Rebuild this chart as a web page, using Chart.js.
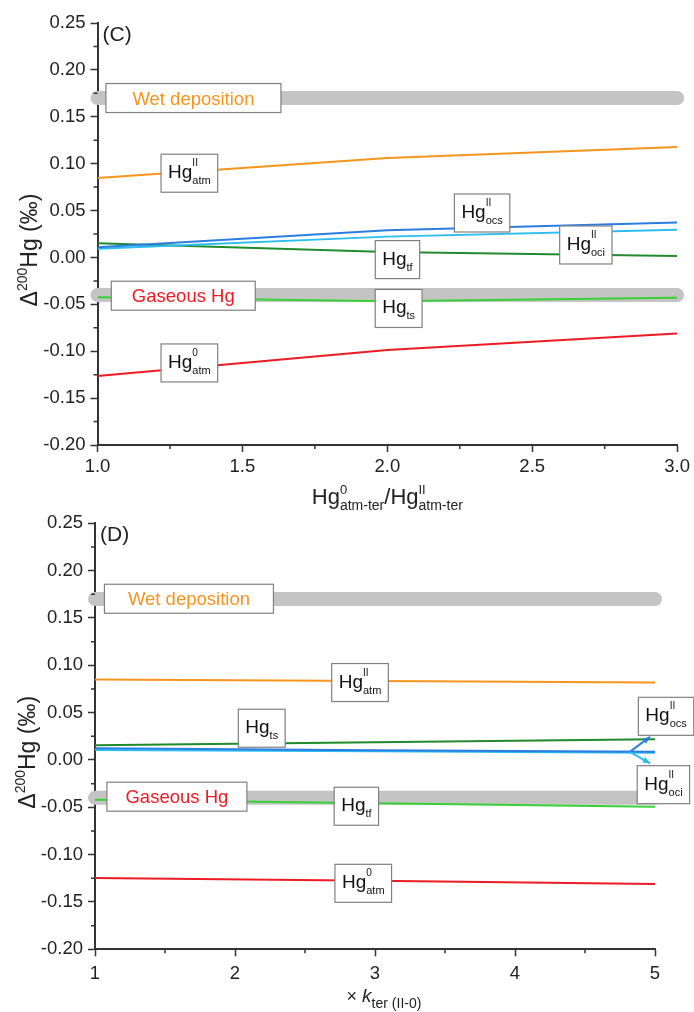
<!DOCTYPE html>
<html>
<head>
<meta charset="utf-8">
<script src="https://cdn.jsdelivr.net/npm/chart.js@4.4.0/dist/chart.umd.min.js"></script>
<style>
  html, body { margin: 0; padding: 0; background: #fff; }
  #wrap { position: relative; width: 694px; height: 1012px; overflow: hidden; }
  canvas { position: absolute; left: 0; }
  #chartC { top: 0; }
  #chartD { top: 500px; }
</style>
</head>
<body>
<div id="wrap">
  <canvas id="chartC" width="694" height="520"></canvas>
  <canvas id="chartD" width="694" height="512"></canvas>
</div>
<script>
// ── Data: panel (C), x = Hg0/HgII (atm-ter) ────────
const ratioX   = [1.0, 2.0, 3.0];
const cHgIIatm = [0.0846, 0.1060, 0.1177];
const cHgIIocs = [0.0109, 0.0290, 0.0372];
const cHgIIoci = [0.0094, 0.0222, 0.0294];
const cHgTf    = [0.0152, 0.0059, 0.0016];
const cHgTs    = [-0.0425, -0.0468, -0.0429];
const cHg0atm  = [-0.1263, -0.0986, -0.0812];

// ── Data: panel (D), x = multiple of k_ter(II-0) ───
const kX       = [1, 3, 5];
const dHgIIatm = [0.0849, 0.0835, 0.0817];
const dHgTs    = [0.0155, 0.0187, 0.0218];
const dHgIIocs = [0.0123, 0.0102, 0.0088];
const dHgIIoci = [0.0106, 0.0092, 0.0077];
const dHgTf    = [-0.0420, -0.0458, -0.0493];
const dHg0atm  = [-0.1248, -0.1276, -0.1311];

// observed values drawn as grey bands
const wetDeposition = 0.170;
const gaseousHg = -0.040;

// axis ranges / ticks
const yRange = [-0.20, 0.25];
const yStep = 0.05;
const xRangeC = [1, 3];
const xStepC = 0.5;
const xRangeD = [1, 5];
const xStepD = 1;

const COLORS = {
    orange: '#f7941d',
    ocs: '#2a7de1',
    oci: '#2bbcf0',
    darkGreen: '#1f8b2c',
    lightGreen: '#37d137',
    red: '#ed1c24',
    band: '#c4c4c4',
    axis: '#333333',
    text: '#222222',
    boxEdge: '#808080'
};

const FONT = '"Liberation Sans", Arial, Helvetica, sans-serif';

// ── Rich text helpers (sub/superscripts on canvas) ──
function fontOf(r) { return (r.i ? 'italic ' : '') + r.s + 'px ' + FONT; }

function layoutRuns(ctx, runs) {
    let x = 0, pending = 0;
    const items = [];
    runs.forEach(r => {
        ctx.font = fontOf(r);
        const w = ctx.measureText(r.t).width;
        items.push({ r, x });
        if (r.stack) { pending = w; }
        else { x += Math.max(w, pending); pending = 0; }
    });
    return { items, width: x };
}

function drawRuns(ctx, runs, x, y, color) {
    const lay = layoutRuns(ctx, runs);
    const x0 = x - lay.width / 2;
    ctx.fillStyle = color;
    ctx.textAlign = 'left';
    ctx.textBaseline = 'alphabetic';
    lay.items.forEach(it => {
        ctx.font = fontOf(it.r);
        ctx.fillText(it.r.t, x0 + it.x, y + (it.r.dy || 0));
    });
}

function hg(sup, sub) {
    const runs = [{ t: 'Hg', s: 19 }];
    if (sup) runs.push({ t: sup, s: 10, dy: -12, stack: true });
    runs.push({ t: sub, s: 11, dy: 6 });
    return runs;
}

function series(xs, ys) { return xs.map((x, i) => ({ x, y: ys[i] })); }

function line(label, xs, ys, color) {
    return {
        label, data: series(xs, ys), borderColor: color, backgroundColor: color,
        showLine: true, borderWidth: 2, pointRadius: 0, fill: false
    };
}

function band(label, xs, value) {
    return {
        label, data: [{ x: xs[0], y: value }, { x: xs[xs.length - 1], y: value }],
        borderColor: COLORS.band, backgroundColor: COLORS.band, showLine: true,
        borderWidth: 14, borderCapStyle: 'round', pointRadius: 0, clip: false
    };
}

// ── Plugins ────────────────────────────────────────
function labelPlugin(items, arrows) {
    return {
        id: 'labelBoxes',
        afterDatasetsDraw(chart) {
            const { ctx, scales: { x, y } } = chart;
            ctx.save();
            (arrows || []).forEach(a => {
                const x1 = x.getPixelForValue(a.from[0]), y1 = y.getPixelForValue(a.from[1]);
                const x2 = x.getPixelForValue(a.to[0]), y2 = y.getPixelForValue(a.to[1]);
                const ang = Math.atan2(y2 - y1, x2 - x1);
                ctx.strokeStyle = a.color; ctx.fillStyle = a.color; ctx.lineWidth = 2;
                ctx.beginPath(); ctx.moveTo(x1, y1); ctx.lineTo(x2, y2); ctx.stroke();
                ctx.beginPath();
                ctx.moveTo(x2, y2);
                ctx.lineTo(x2 - 8 * Math.cos(ang - 0.4), y2 - 8 * Math.sin(ang - 0.4));
                ctx.lineTo(x2 - 8 * Math.cos(ang + 0.4), y2 - 8 * Math.sin(ang + 0.4));
                ctx.closePath(); ctx.fill();
            });
            items.forEach(it => {
                const cx = x.getPixelForValue(it.x), cy = y.getPixelForValue(it.y);
                const w = it.w || layoutRuns(ctx, it.runs).width + 14;
                const h = it.h || 38;
                ctx.fillStyle = '#fff';
                ctx.fillRect(cx - w / 2, cy - h / 2, w, h);
                ctx.strokeStyle = COLORS.boxEdge; ctx.lineWidth = 1.2;
                ctx.strokeRect(cx - w / 2, cy - h / 2, w, h);
                drawRuns(ctx, it.runs, cx, cy + (it.base || 5), it.color || '#111');
            });
            ctx.restore();
        }
    };
}

function decorPlugin(cfg) {
    return {
        id: 'decor',
        afterDraw(chart) {
            const { ctx, chartArea: a, scales: { x, y } } = chart;
            ctx.save();
            // minor ticks
            ctx.strokeStyle = COLORS.axis; ctx.lineWidth = 1.5;
            ctx.beginPath();
            for (let v = yRange[0] + yStep / 2; v < yRange[1]; v += yStep) {
                const p = y.getPixelForValue(v);
                ctx.moveTo(a.left - 4, p); ctx.lineTo(a.left, p);
            }
            for (let v = cfg.xRange[0] + cfg.xStep / 2; v < cfg.xRange[1]; v += cfg.xStep) {
                const p = x.getPixelForValue(v);
                ctx.moveTo(p, a.bottom); ctx.lineTo(p, a.bottom + 4);
            }
            ctx.stroke();
            // panel letter
            ctx.fillStyle = COLORS.text;
            ctx.font = '21px ' + FONT;
            ctx.textAlign = 'left'; ctx.textBaseline = 'alphabetic';
            ctx.fillText(cfg.letter, a.left + 5, a.top + 18);
            // y title (rotated)
            ctx.save();
            ctx.translate(cfg.yTitleX, (a.top + a.bottom) / 2 + 16);
            ctx.rotate(-Math.PI / 2);
            drawRuns(ctx, [{ t: 'Δ', s: 23 }, { t: '200', s: 14, dy: -10 }, { t: 'Hg (‰)', s: 23 }], 0, 0, COLORS.text);
            ctx.restore();
            // x title
            drawRuns(ctx, cfg.xTitle, (a.left + a.right) / 2 + cfg.xTitleShift, a.bottom + cfg.xTitleDrop, COLORS.text);
            ctx.restore();
        }
    };
}

// ── Chart builder ──────────────────────────────────
function buildChart(canvasId, cfg) {
    const tickFont = { size: 18.5, family: FONT };
    return new Chart(document.getElementById(canvasId), {
        type: 'scatter',
        data: { datasets: cfg.datasets },
        options: {
            responsive: false,
            animation: false,
            layout: { padding: cfg.padding },
            plugins: { legend: { display: false }, tooltip: { enabled: false } },
            scales: {
                x: {
                    type: 'linear', min: cfg.xRange[0], max: cfg.xRange[1],
                    border: { display: true, color: COLORS.axis, width: 2 },
                    grid: { drawOnChartArea: false, drawTicks: true, tickLength: 7, tickColor: COLORS.axis, tickWidth: 1.5 },
                    ticks: {
                        stepSize: cfg.xStep, padding: cfg.xTickPad, color: COLORS.text, font: tickFont,
                        maxRotation: 0, autoSkip: false,
                        callback: v => v.toFixed(cfg.xDigits)
                    },
                    afterFit: s => { s.height = cfg.xHeight; }
                },
                y: {
                    type: 'linear', min: yRange[0], max: yRange[1],
                    border: { display: true, color: COLORS.axis, width: 2 },
                    grid: { drawOnChartArea: false, drawTicks: true, tickLength: 7, tickColor: COLORS.axis, tickWidth: 1.5 },
                    ticks: {
                        stepSize: yStep, padding: 5, color: COLORS.text, font: tickFont,
                        callback: v => (Math.abs(v) < 1e-9 ? 0 : v).toFixed(2)
                    },
                    afterFit: s => { s.width = cfg.yWidth; }
                }
            }
        },
        plugins: [labelPlugin(cfg.labels, cfg.arrows), decorPlugin(cfg)]
    });
}

// ── Panel (C) ──────────────────────────────────────
buildChart('chartC', {
    letter: '(C)',
    xRange: xRangeC, xStep: xStepC, xDigits: 1, xTickPad: 4,
    padding: { top: 23, right: 14, bottom: 0, left: 0 },
    yWidth: 97.5, xHeight: 75, yTitleX: 37,
    xTitle: [
        { t: 'Hg', s: 22 }, { t: '0', s: 13, dy: -10, stack: true }, { t: 'atm-ter', s: 14, dy: 6 },
        { t: '/Hg', s: 22 }, { t: 'II', s: 13, dy: -10, stack: true }, { t: 'atm-ter', s: 14, dy: 6 }
    ],
    xTitleShift: 0, xTitleDrop: 59,
    datasets: [
        line('HgII atm', ratioX, cHgIIatm, COLORS.orange),
        line('HgII ocs', ratioX, cHgIIocs, COLORS.ocs),
        line('HgII oci', ratioX, cHgIIoci, COLORS.oci),
        line('Hg tf', ratioX, cHgTf, COLORS.darkGreen),
        line('Hg ts', ratioX, cHgTs, COLORS.lightGreen),
        line('Hg0 atm', ratioX, cHg0atm, COLORS.red),
        band('Wet deposition', ratioX, wetDeposition),
        band('Gaseous Hg', ratioX, gaseousHg)
    ],
    labels: [
        { x: 1.331, y: 0.170, runs: [{ t: 'Wet deposition', s: 18.5 }], color: COLORS.orange, w: 175, h: 29, base: 6.5 },
        { x: 1.317, y: 0.0898, runs: hg('II', 'atm') },
        { x: 2.327, y: 0.0474, runs: hg('II', 'ocs') },
        { x: 2.685, y: 0.0133, runs: hg('II', 'oci') },
        { x: 2.035, y: -0.0023, runs: hg(null, 'tf') },
        { x: 1.296, y: -0.0408, runs: [{ t: 'Gaseous Hg', s: 18.5 }], color: COLORS.red, w: 144, h: 29, base: 6.5 },
        { x: 2.039, y: -0.0544, runs: hg(null, 'ts') },
        { x: 1.317, y: -0.1125, runs: hg('0', 'atm') }
    ]
});

// ── Panel (D) ──────────────────────────────────────
buildChart('chartD', {
    letter: '(D)',
    xRange: xRangeD, xStep: xStepD, xDigits: 0, xTickPad: 7,
    padding: { top: 23.3, right: 39, bottom: 0, left: 0 },
    yWidth: 95, xHeight: 62.7, yTitleX: 35,
    xTitle: [{ t: '× ', s: 18 }, { t: 'k', s: 19, i: true }, { t: 'ter (II-0)', s: 14, dy: 6 }],
    xTitleShift: 9, xTitleDrop: 52.4,
    datasets: [
        line('HgII atm', kX, dHgIIatm, COLORS.orange),
        line('Hg ts', kX, dHgTs, COLORS.darkGreen),
        line('HgII ocs', kX, dHgIIocs, COLORS.ocs),
        line('HgII oci', kX, dHgIIoci, COLORS.oci),
        line('Hg tf', kX, dHgTf, COLORS.lightGreen),
        line('Hg0 atm', kX, dHg0atm, COLORS.red),
        band('Wet deposition', kX, wetDeposition),
        band('Gaseous Hg', kX, gaseousHg)
    ],
    arrows: [
        { from: [4.82, 0.0085], to: [4.965, 0.0245], color: COLORS.ocs },
        { from: [4.82, 0.0085], to: [4.965, -0.0035], color: COLORS.oci }
    ],
    labels: [
        { x: 1.671, y: 0.1703, runs: [{ t: 'Wet deposition', s: 18.5 }], color: COLORS.orange, w: 169, h: 29, base: 6.5 },
        { x: 2.893, y: 0.0818, runs: hg('II', 'atm') },
        { x: 2.191, y: 0.0335, runs: hg(null, 'ts') },
        { x: 5.079, y: 0.0461, runs: hg('II', 'ocs') },
        { x: 1.585, y: -0.0388, runs: [{ t: 'Gaseous Hg', s: 18.5 }], color: COLORS.red, w: 140, h: 29, base: 6.5 },
        { x: 2.867, y: -0.0489, runs: hg(null, 'tf') },
        { x: 2.916, y: -0.1303, runs: hg('0', 'atm') },
        { x: 5.06, y: -0.0261, runs: hg('II', 'oci') }
    ]
});
</script>
</body>
</html>
